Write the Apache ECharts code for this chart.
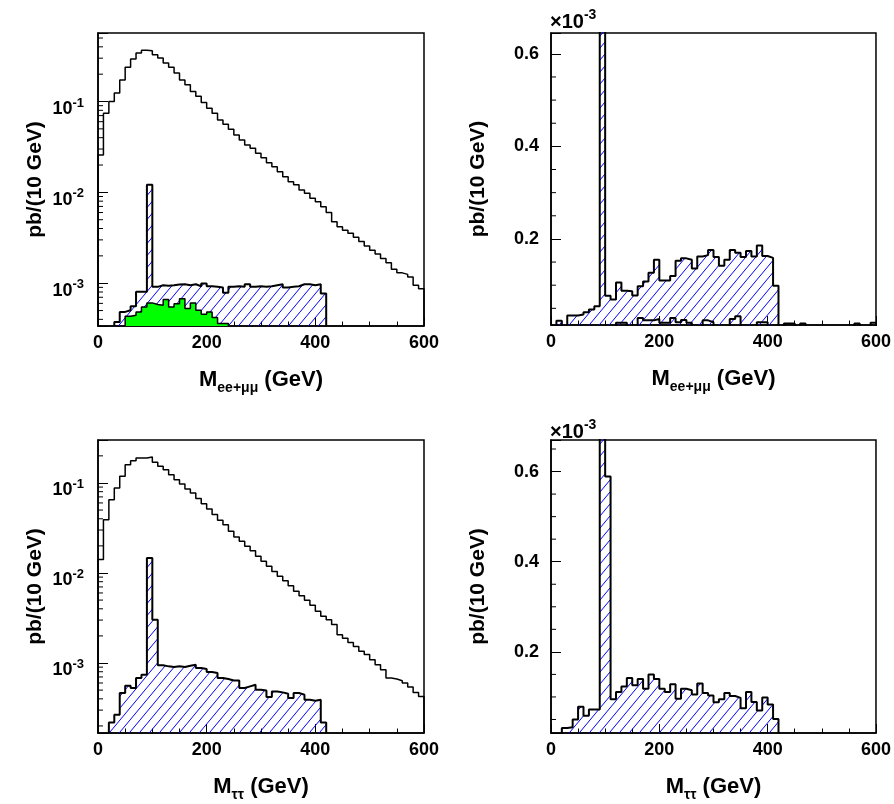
<!DOCTYPE html>
<html>
<head>
<meta charset="utf-8">
<script src="https://cdn.jsdelivr.net/npm/echarts@6/dist/echarts.min.js"></script>
<style>
html, body { margin: 0; padding: 0; background: #fff; }
#main { width: 894px; height: 804px; }
</style>
</head>
<body>
<div id="main"></div>
<script>
// 60 bins of 10 GeV, 0 - 600 GeV
var binWidth = 10;

// top left: M(ee+mumu), pb/(10 GeV), log scale
var tlBackground = [0.0258, 0.0745, 0.100, 0.124, 0.173, 0.238, 0.293, 0.342, 0.366, 0.362,
  0.328, 0.301, 0.265, 0.239, 0.206, 0.173, 0.153, 0.129, 0.114, 0.0975,
  0.0845, 0.0745, 0.0628, 0.0562, 0.0495, 0.0429, 0.0378, 0.0333, 0.0306, 0.0269,
  0.0241, 0.0212, 0.0192, 0.0169, 0.0149, 0.0131, 0.0121, 0.0106, 0.00975, 0.00859,
  0.00789, 0.00695, 0.0060, 0.00475, 0.00418, 0.00384, 0.00354, 0.00320, 0.00287, 0.00256,
  0.00231, 0.00209, 0.00187, 0.00168, 0.00142, 0.00130, 0.00125, 0.00117, 0.00095, 0.00087];
var tlSignal = [0, 0, 0, 3.75e-4, 4.83e-4, 5.04e-4, 5.58e-4, 8.03e-4, 8.03e-4, 0.0121,
  9.12e-4, 9.51e-4, 9.35e-4, 9.51e-4, 9.68e-4, 9.75e-4, 9.51e-4, 9.75e-4, 9.27e-4, 9.93e-4,
  9.27e-4, 9.12e-4, 8.96e-4, 7.83e-4, 9.12e-4, 9.27e-4, 9.12e-4, 9.75e-4, 9.12e-4, 9.27e-4,
  9.12e-4, 9.27e-4, 9.51e-4, 9.75e-4, 8.96e-4, 9.12e-4, 9.27e-4, 9.75e-4, 9.75e-4, 9.51e-4,
  9.75e-4, 7.70e-4, 0, 0, 0, 0, 0, 0, 0, 0,
  0, 0, 0, 0, 0, 0, 0, 0, 0, 0];
var tlGreen = [0, 0, 0, 0, 0, 4.33e-4, 4.45e-4, 4.83e-4, 5.48e-4, 6.07e-4,
  5.82e-4, 5.72e-4, 6.6e-4, 5.48e-4, 5.95e-4, 6.75e-4, 5.26e-4, 6.07e-4, 5.04e-4, 4.55e-4,
  4.83e-4, 4.18e-4, 3.59e-4, 3.59e-4, 0, 0, 0, 0, 0, 0,
  0, 0, 0, 0, 0, 0, 0, 0, 0, 0,
  0, 0, 0, 0, 0, 0, 0, 0, 0, 0,
  0, 0, 0, 0, 0, 0, 0, 0, 0, 0];

// top right: M(ee+mumu), units of 1e-3 pb/(10 GeV), linear
var trSignal = [0, 0.023, 0, 0.0345, 0.0345, 0.0367, 0.0417, 0.0475, 0.0547, 1.5,
  0.077, 0.069, 0.106, 0.088, 0.087, 0.078, 0.098, 0.108, 0.127, 0.155,
  0.110, 0.110, 0.120, 0.153, 0.158, 0.155, 0.136, 0.162, 0.165, 0.176,
  0.161, 0.142, 0.155, 0.176, 0.170, 0.161, 0.174, 0.162, 0.186, 0.163,
  0.159, 0.099, 0, 0, 0, 0, 0, 0, 0, 0,
  0, 0, 0, 0, 0, 0, 0, 0, 0, 0];
var trBackground = [0, 0, 0, 0, 0, 0, 0, 0, 0, 0,
  0, 0, 0.019, 0.019, 0, 0, 0.029, 0.024, 0.024, 0.027,
  0.019, 0.019, 0.029, 0.020, 0.025, 0.019, 0, 0, 0.024, 0.020,
  0, 0, 0, 0.027, 0.033, 0, 0, 0, 0.020, 0.020,
  0, 0, 0, 0.017, 0.017, 0, 0.017, 0, 0, 0,
  0, 0, 0, 0, 0, 0, 0.017, 0, 0, 0.019];

// bottom left: M(tautau), pb/(10 GeV), log scale
var blBackground = [0.0141, 0.0391, 0.0652, 0.0879, 0.1186, 0.1597, 0.177, 0.1893, 0.1893, 0.1945,
  0.1695, 0.1531, 0.1406, 0.1236, 0.1088, 0.0974, 0.0858, 0.0774, 0.067, 0.0589,
  0.0514, 0.0445, 0.0385, 0.0344, 0.029, 0.0251, 0.0225, 0.0198, 0.0177, 0.0153,
  0.0135, 0.0119, 0.0104, 0.00918, 0.00821, 0.00723, 0.00625, 0.0056, 0.00497, 0.00437,
  0.00375, 0.0033, 0.00303, 0.00267, 0.00206, 0.00189, 0.00169, 0.00153, 0.00135, 0.00124,
  0.00109, 0.000957, 0.000843, 0.000681, 0.000664, 0.000636, 0.000599, 0.000541, 0.000472, 0.000426];
var blSignal = [0, 0, 2.19e-4, 2.67e-4, 4.64e-4, 5.6e-4, 5.27e-4, 6.81e-4, 7.4e-4, 0.01466,
  0.00303, 9.42e-4, 9.18e-4, 9.02e-4, 9.18e-4, 9.02e-4, 9.34e-4, 9.58e-4, 8.79e-4, 8.57e-4,
  7.94e-4, 7.74e-4, 6.81e-4, 6.64e-4, 6.41e-4, 6.41e-4, 5.27e-4, 5.5e-4, 5.74e-4, 5.05e-4,
  4.96e-4, 4.2e-4, 4.84e-4, 4.72e-4, 4.56e-4, 4.1e-4, 4.64e-4, 4.45e-4, 3.91e-4, 3.81e-4,
  3.91e-4, 2.19e-4, 0, 0, 0, 0, 0, 0, 0, 0,
  0, 0, 0, 0, 0, 0, 0, 0, 0, 0];

// bottom right: M(tautau), units of 1e-3 pb/(10 GeV), linear
var brSignal = [0, 0, 0.031, 0.033, 0.050, 0.078, 0.058, 0.072, 0.072, 1.2,
  0.589, 0.095, 0.111, 0.123, 0.142, 0.126, 0.140, 0.118, 0.150, 0.140,
  0.118, 0.111, 0.128, 0.096, 0.118, 0.115, 0.1055, 0.130, 0.109, 0.103,
  0.088, 0.095, 0.109, 0.102, 0.098, 0.075, 0.111, 0.089, 0.070, 0.099,
  0.083, 0.051, 0, 0, 0, 0, 0, 0, 0, 0,
  0, 0, 0, 0, 0, 0, 0, 0, 0, 0];

var font = 'Liberation Sans, Arial, Helvetica, sans-serif';

// histogram outline points (only the filled bin range), drawn with step:'end'
function histPoints(vals, floor) {
  var a = 0, b = vals.length - 1;
  while (a < b && !(vals[a] > 0)) a++;
  while (b > a && !(vals[b] > 0)) b--;
  var pts = [[a * binWidth, floor]];
  for (var i = a; i <= b; i++) {
    pts.push([i * binWidth, vals[i] > 0 ? vals[i] : floor]);
  }
  pts.push([(b + 1) * binWidth, vals[b]]);
  pts.push([(b + 1) * binWidth, floor]);
  return pts;
}

function makeHatch() {
  var c = document.createElement('canvas');
  var w = 10, h = 12;
  c.width = w; c.height = h;
  var ctx = c.getContext('2d');
  ctx.strokeStyle = '#0000ff';
  ctx.lineWidth = 1;
  for (var k = -1; k <= 1; k++) {
    ctx.beginPath();
    ctx.moveTo(-w + k * w, 2 * h);
    ctx.lineTo(2 * w + k * w, -h);
    ctx.stroke();
  }
  return c;
}
var hatch = { image: makeHatch(), repeat: 'repeat' };

// minor tick values for the y axes
function logMinor(lo, hi) {
  var out = [];
  for (var e = -5; e <= 1; e++) {
    for (var m = 2; m <= 9; m++) {
      var v = m * Math.pow(10, e);
      if (v > lo && v < hi) out.push([0, v]);
    }
  }
  return out;
}
function linMinor(lo, hi) {
  var out = [];
  for (var k = 1; k * 0.05 < hi; k++) {
    var v = k * 0.05;
    if (v > lo && k % 4 !== 0) out.push([0, v]);
  }
  return out;
}

var grids = [
  { left: 98, top: 33, width: 326, height: 293 },
  { left: 551, top: 33, width: 327, height: 292 },
  { left: 98, top: 440, width: 326, height: 293 },
  { left: 551, top: 440, width: 327, height: 293 }
];
var yRange = [[3.38e-4, 0.568], [0.014, 0.645], [1.67e-4, 0.30], [0.020, 0.670]];

function xAxisFor(i, sub) {
  return {
    type: 'value', gridIndex: i, min: 0, max: 600, interval: 200,
    axisLine: { onZero: false, lineStyle: { color: '#000', width: 1.5 } },
    axisTick: { inside: true, length: 9, lineStyle: { color: '#000', width: 1 } },
    minorTick: { show: true, splitNumber: 4, length: 4.5, lineStyle: { color: '#000', width: 1 } },
    splitLine: { show: false },
    axisLabel: { color: '#000', fontFamily: font, fontWeight: 'bold', fontSize: 18, margin: 8 },
    name: '{m|M}{s|' + sub + '}{m| (GeV)}',
    nameLocation: 'middle', nameGap: 42,
    nameTextStyle: {
      rich: {
        m: { fontFamily: font, fontWeight: 'bold', fontSize: 22, lineHeight: 24, color: '#000' },
        // lowered by half the top padding
        s: { fontFamily: font, fontWeight: 'bold', fontSize: 14, lineHeight: 24,
          padding: [16, 0, 0, 0], color: '#000' }
      }
    }
  };
}

function logLabel(v) {
  var e = Math.log10(v);
  if (Math.abs(e - Math.round(e)) > 1e-6) return '';
  return '{b|10}{s|' + Math.round(e) + '}';
}
function linLabel(v) {
  if (Math.abs(v * 5 - Math.round(v * 5)) > 1e-6) return '';
  return v.toFixed(1);
}

var yName = 'pb/(10 GeV)';
var yNameStyle = { fontFamily: font, fontWeight: 'bold', fontSize: 21, color: '#000' };

function yAxisFor(i) {
  var isLog = (i % 2 === 0);
  var ax = {
    type: isLog ? 'log' : 'value', gridIndex: i,
    min: yRange[i][0], max: yRange[i][1],
    axisLine: { lineStyle: { color: '#000', width: 1.5 } },
    axisTick: { inside: true, length: 10, lineStyle: { color: '#000', width: 1 } },
    splitLine: { show: false },
    name: yName, nameLocation: 'middle', nameRotate: 90,
    nameGap: isLog ? 52 : 62, nameTextStyle: yNameStyle
  };
  if (isLog) {
    ax.logBase = 10;
    ax.axisLabel = {
      formatter: logLabel, margin: 14, verticalAlign: 'top',
      rich: {
        b: { fontFamily: font, fontWeight: 'bold', fontSize: 18, lineHeight: 15, color: '#000' },
        // raised by half the bottom padding
        s: { fontFamily: font, fontWeight: 'bold', fontSize: 13, lineHeight: 15,
          padding: [0, 0, 12, 0], color: '#000' }
      }
    };
  } else {
    ax.splitNumber = 3;
    ax.axisLabel = {
      formatter: linLabel, margin: 12, padding: [5, 0, 0, 0],
      fontFamily: font, fontWeight: 'bold', fontSize: 18, color: '#000'
    };
  }
  return ax;
}

function line(vals, floor, i, opt) {
  var s = {
    type: 'line', xAxisIndex: i, yAxisIndex: i,
    data: histPoints(vals, floor), step: 'end',
    symbol: 'none', showSymbol: false, silent: true, animation: false,
    lineStyle: { color: '#000', width: 1.5 }, z: 2
  };
  for (var k in opt) s[k] = opt[k];
  return s;
}

function minorTicks(i, data) {
  return {
    type: 'custom', xAxisIndex: i, yAxisIndex: i, data: data, silent: true, animation: false, z: 6,
    renderItem: function (params, api) {
      var p = api.coord([0, api.value(1)]);
      return { type: 'line', shape: { x1: p[0], y1: p[1], x2: p[0] + 5, y2: p[1] },
        style: { stroke: '#000', lineWidth: 1 } };
    }
  };
}

var hatchedStyle = { areaStyle: { color: hatch, opacity: 1, origin: 'start' },
  lineStyle: { color: '#000', width: 2 }, z: 3 };

var series = [
  line(tlBackground, yRange[0][0], 0, {}),
  line(tlSignal, yRange[0][0], 0, hatchedStyle),
  line(tlGreen, yRange[0][0], 0, { areaStyle: { color: '#00ff00', opacity: 1, origin: 'start' },
    lineStyle: { color: '#000', width: 1.5 }, z: 4 }),
  line(trSignal, 0, 1, hatchedStyle),
  line(trBackground, 0, 1, { lineStyle: { color: '#000', width: 2 }, z: 4 }),
  line(blBackground, yRange[2][0], 2, {}),
  line(blSignal, yRange[2][0], 2, hatchedStyle),
  line(brSignal, 0, 3, hatchedStyle),
  minorTicks(0, logMinor(yRange[0][0], yRange[0][1])),
  minorTicks(1, linMinor(yRange[1][0], yRange[1][1])),
  minorTicks(2, logMinor(yRange[2][0], yRange[2][1])),
  minorTicks(3, linMinor(yRange[3][0], yRange[3][1]))
];

var expRich = {
  a: { fontFamily: font, fontWeight: 'bold', fontSize: 20, lineHeight: 16, fill: '#000' },
  b: { fontFamily: font, fontWeight: 'bold', fontSize: 14, lineHeight: 16, padding: [0, 0, 14, 0], fill: '#000' }
};

var chart = echarts.init(document.getElementById('main'));
chart.setOption({
  backgroundColor: '#fff',
  animation: false,
  grid: grids.map(function (g) {
    return { left: g.left, top: g.top, width: g.width, height: g.height,
      show: true, borderColor: '#000', borderWidth: 1.5, backgroundColor: 'transparent' };
  }),
  xAxis: [xAxisFor(0, 'ee+μμ'), xAxisFor(1, 'ee+μμ'), xAxisFor(2, 'ττ'), xAxisFor(3, 'ττ')],
  yAxis: [yAxisFor(0), yAxisFor(1), yAxisFor(2), yAxisFor(3)],
  graphic: [
    { type: 'text', left: 550, top: 8, style: { text: '{a|×10}{b|-3}', rich: expRich } },
    { type: 'text', left: 550, top: 418, style: { text: '{a|×10}{b|-3}', rich: expRich } }
  ],
  series: series
});
</script>
</body>
</html>
